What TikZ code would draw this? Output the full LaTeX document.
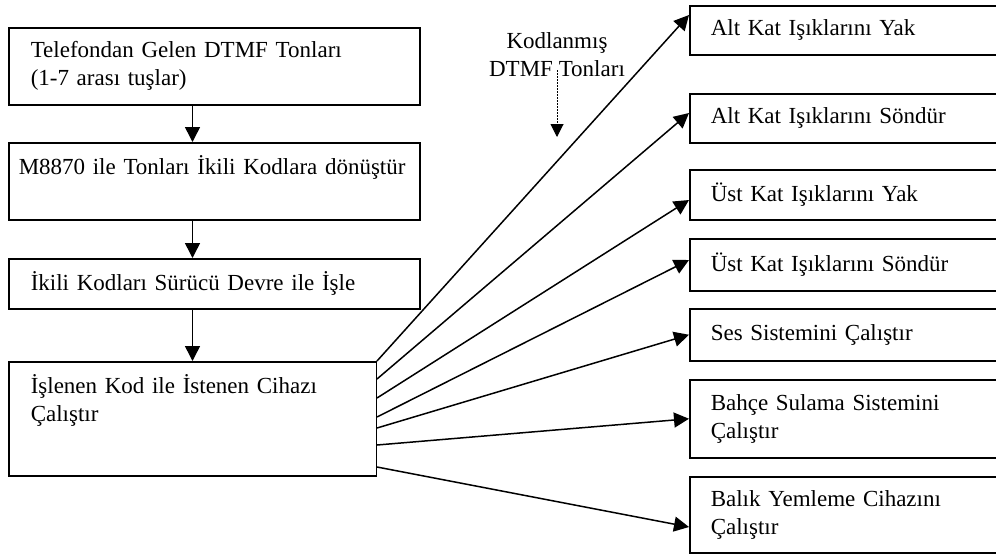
\documentclass[tikz,border=0pt]{standalone}
\usepackage{fontspec}
\setmainfont{Liberation Serif}
\usetikzlibrary{arrows.meta}

\begin{document}
\begin{tikzpicture}[x=0.5pt, y=-0.5pt, font=\fontsize{11.5}{14}\selectfont, >={Triangle[length=7.5pt, width=7.5pt]},
  stepbox/.style={draw, line width=0.75pt, anchor=north west, align=left, inner xsep=11pt, inner ysep=0pt},
  outbox/.style={draw, line width=0.75pt, anchor=north west, align=left, inner xsep=10.5pt, inner ysep=0pt, text width=179pt},
  flow/.style={->, line width=0.75pt}]
  \useasboundingbox (0,0) rectangle (996,553);
  \clip (0,0) rectangle (996,553);
  % left column
  \node[stepbox, text width=183.5pt, minimum height=38.5pt] (b1) at (8,27)
    {Telefondan Gelen DTMF Tonları\\(1-7 arası tuşlar)};
  \node[stepbox, inner xsep=5pt, text width=195.5pt, minimum height=38.5pt] (b2) at (8,142)
    {M8870 ile Tonları İkili Kodlara dönüştür\\[2pt]~};
  \node[stepbox, text width=183.5pt, minimum height=25pt] (b3) at (8,258)
    {İkili Kodları Sürücü Devre ile İşle};
  \node[stepbox, text width=161.75pt, minimum height=57pt] (b4) at (8,361)
    {İşlenen Kod ile İstenen Cihazı\\Çalıştır\\[7pt]~};
  % right column
  \node[outbox, minimum height=24.5pt] (r1) at (689,5) {Alt Kat Işıklarını Yak};
  \node[outbox, minimum height=24.5pt] (r2) at (689,93) {Alt Kat Işıklarını Söndür};
  \node[outbox, minimum height=25pt] (r3) at (689,169) {Üst Kat Işıklarını Yak};
  \node[outbox, minimum height=26pt] (r4) at (689,238) {Üst Kat Işıklarını Söndür};
  \node[outbox, minimum height=26pt] (r5) at (689,308) {Ses Sistemini Çalıştır};
  \node[outbox, minimum height=39pt] (r6) at (689,379) {Bahçe Sulama Sistemini\\Çalıştır};
  \node[outbox, minimum height=38pt] (r7) at (689,476) {Balık Yemleme Cihazını\\Çalıştır};
  \node[align=center] (kod) at (557,55) {Kodlanmış\\DTMF Tonları};
  \coordinate (kodend) at (557,137);
  \draw[flow] (b1.south -| b4.north) -- (b2.north -| b4.north);
  \draw[flow] (b2.south -| b4.north) -- (b3.north -| b4.north);
  \draw[flow] (b3.south -| b4.north) -- (b4.north);
  \draw[flow] (b4.north east) -- ([yshift=-5pt]r1.north west);
  \draw[flow] ([yshift=-9pt]b4.north east) -- ([yshift=-10pt]r2.north west);
  \draw[flow] ([yshift=-18.5pt]b4.north east) -- ([yshift=-15.5pt]r3.north west);
  \draw[flow] ([yshift=-28pt]b4.north east) -- ([yshift=-11pt]r4.north west);
  \draw[flow] ([yshift=-33.5pt]b4.north east) -- (r5.west);
  \draw[flow] ([yshift=-42pt]b4.north east) -- (r6.west);
  \draw[flow] ([yshift=-53pt]b4.north east) -- ([yshift=-25.5pt]r7.north west);
  \draw[->, >={Triangle[length=6.5pt, width=6.5pt]}, line width=0.5pt, dash pattern=on 0.75pt off 0.75pt] ([yshift=7pt]kod.south) -- (kodend);
\end{tikzpicture}
\end{document}
